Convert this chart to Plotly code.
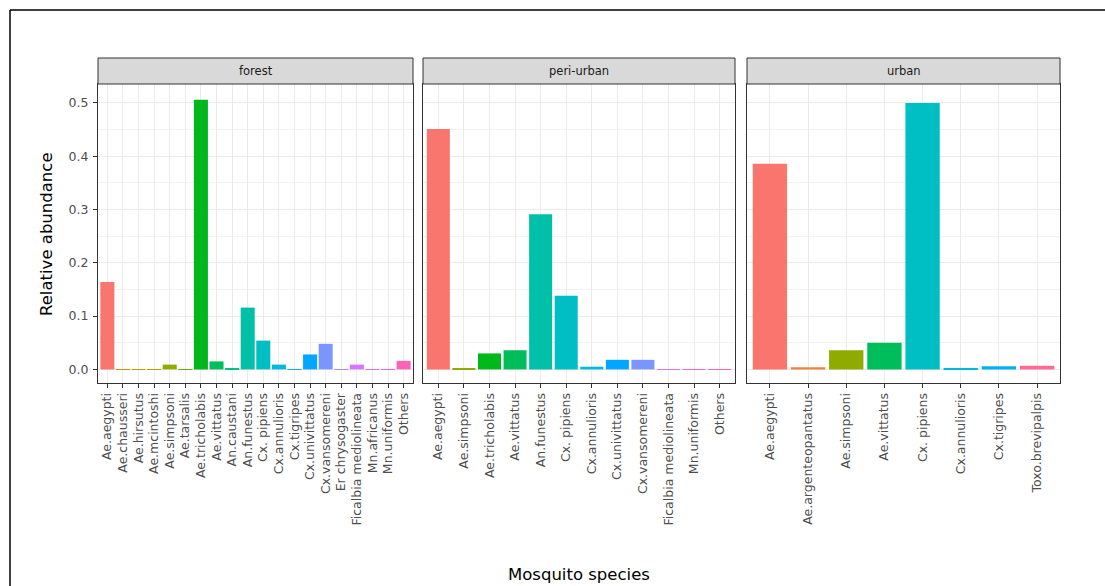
import math
import plotly.graph_objects as go

# ---------------- data ----------------
all_species = [
    "Ae.aegypti", "Ae.argenteopantatus", "Ae.chausseri", "Ae.hirsutus", "Ae.mcintoshi",
    "Ae.simpsoni", "Ae.tarsalis", "Ae.tricholabis", "Ae.vittatus", "An.caustani",
    "An.funestus", "Cx. pipiens", "Cx.annulioris", "Cx.tigripes", "Cx.univittatus",
    "Cx.vansomereni", "Er chrysogaster", "Ficalbia mediolineata", "Mn.africanus",
    "Mn.uniformis", "Others", "Toxo.brevipalpis",
]

forest_species = [
    "Ae.aegypti", "Ae.chausseri", "Ae.hirsutus", "Ae.mcintoshi", "Ae.simpsoni",
    "Ae.tarsalis", "Ae.tricholabis", "Ae.vittatus", "An.caustani", "An.funestus",
    "Cx. pipiens", "Cx.annulioris", "Cx.tigripes", "Cx.univittatus", "Cx.vansomereni",
    "Er chrysogaster", "Ficalbia mediolineata", "Mn.africanus", "Mn.uniformis", "Others",
]
forest_values = [
    0.164, 0.0005, 0.0005, 0.0005, 0.009,
    0.0005, 0.506, 0.015, 0.001, 0.116,
    0.054, 0.009, 0.0005, 0.028, 0.048,
    0.0005, 0.009, 0.0005, 0.0005, 0.016,
]

periurban_species = [
    "Ae.aegypti", "Ae.simpsoni", "Ae.tricholabis", "Ae.vittatus", "An.funestus",
    "Cx. pipiens", "Cx.annulioris", "Cx.univittatus", "Cx.vansomereni",
    "Ficalbia mediolineata", "Mn.uniformis", "Others",
]
periurban_values = [
    0.451, 0.001, 0.030, 0.036, 0.291,
    0.138, 0.005, 0.018, 0.018,
    0.0005, 0.0005, 0.0005,
]

urban_species = [
    "Ae.aegypti", "Ae.argenteopantatus", "Ae.simpsoni", "Ae.vittatus", "Cx. pipiens",
    "Cx.annulioris", "Cx.tigripes", "Toxo.brevipalpis",
]
urban_values = [0.386, 0.004, 0.036, 0.050, 0.500, 0.001, 0.006, 0.007]

panel_names = ["forest", "peri-urban", "urban"]
y_ticks = [0.0, 0.1, 0.2, 0.3, 0.4, 0.5]
y_tick_labels = ["0.0", "0.1", "0.2", "0.3", "0.4", "0.5"]


# ---------------- ggplot hue palette ----------------
def hcl_hex(h, c=100.0, l=65.0):
    WX, WY, WZ = 95.047, 100.0, 108.883
    hr = math.radians(h)
    U, V = c * math.cos(hr), c * math.sin(hr)
    Y = WY * (((l + 16) / 116) ** 3 if l > 7.999592 else l / 903.3)
    t = WX + WY + WZ
    x, y = WX / t, WY / t
    uN = 2 * x / (6 * y - x + 1.5)
    vN = 4.5 * y / (6 * y - x + 1.5)
    u = U / (13 * l) + uN
    v = V / (13 * l) + vN
    X = 9.0 * Y * u / (4 * v)
    Z = -X / 3 - 5 * Y + 3 * Y / v

    def g(val):
        val = val / WY
        val = 1.055 * val ** (1 / 2.4) - 0.055 if val > 0.00304 else 12.92 * val
        return min(1.0, max(0.0, val))

    r = g(3.240479 * X - 1.537150 * Y - 0.498535 * Z)
    gg = g(-0.969256 * X + 1.875992 * Y + 0.041556 * Z)
    b = g(0.055648 * X - 0.204043 * Y + 1.057311 * Z)
    return "#%02X%02X%02X" % (round(r * 255), round(gg * 255), round(b * 255))


n = len(all_species)
color_map = {sp: hcl_hex((15 + i * 360.0 / n) % 360) for i, sp in enumerate(all_species)}

# ---------------- figure ----------------
W, H = 1105, 586
L_PX, R_PX, T_PX, B_PX = 98, 1060, 84, 383
pw, ph = R_PX - L_PX, B_PX - T_PX
panel_px = [(98, 413), (423, 735), (747, 1060)]


def px_x(p):
    return (p - L_PX) / pw


def px_y(p):
    return (B_PX - p) / ph


fig = go.Figure()
panels = [
    (forest_species, forest_values),
    (periurban_species, periurban_values),
    (urban_species, urban_values),
]

font_family = "DejaVu Sans, sans-serif"

for i, (sp, vals) in enumerate(panels):
    xa = "x" if i == 0 else "x%d" % (i + 1)
    ya = "y" if i == 0 else "y%d" % (i + 1)
    fig.add_trace(go.Bar(
        x=sp, y=vals, xaxis=xa, yaxis=ya,
        marker=dict(color=[color_map[s] for s in sp], line=dict(width=0)),
        showlegend=False,
    ))
    a, b = panel_px[i]
    xkey = "xaxis" if i == 0 else "xaxis%d" % (i + 1)
    ykey = "yaxis" if i == 0 else "yaxis%d" % (i + 1)
    fig.layout[xkey] = dict(
        domain=[px_x(a), px_x(b)], anchor=ya,
        type="category", categoryorder="array", categoryarray=sp,
        range=[-0.6, len(sp) - 0.4],
        tickangle=-90, ticks="outside", ticklen=4, tickcolor="#333333",
        tickfont=dict(size=12.5, color="#4D4D4D", family=font_family),
        showgrid=True, gridcolor="#EBEBEB", gridwidth=1,
        showline=True, mirror=True, linecolor="#333333", linewidth=1,
        zeroline=False, fixedrange=True,
    )
    fig.layout[ykey] = dict(
        domain=[0, 1], anchor=xa,
        range=[-0.0255, 0.5355],
        tickvals=y_ticks, ticktext=y_tick_labels,
        showticklabels=(i == 0),
        ticks="outside" if i == 0 else "", ticklen=4, tickcolor="#333333",
        ticklabelstandoff=2,
        tickfont=dict(size=12.5, color="#4D4D4D", family=font_family),
        showgrid=True, gridcolor="#EBEBEB", gridwidth=1,
        minor=dict(dtick=0.1, tick0=0.05, showgrid=True, gridcolor="#F2F2F2", gridwidth=0.6),
        showline=True, mirror=True, linecolor="#333333", linewidth=1,
        zeroline=False, fixedrange=True,
    )

shapes = []
annotations = []
for i, name in enumerate(panel_names):
    a, b = panel_px[i]
    shapes.append(dict(
        type="rect", xref="paper", yref="paper",
        x0=px_x(a), x1=px_x(b), y0=px_y(84), y1=px_y(58),
        fillcolor="#D9D9D9", line=dict(color="#333333", width=1), layer="above",
    ))
    annotations.append(dict(
        text=name, xref="paper", yref="paper",
        x=(px_x(a) + px_x(b)) / 2, y=(px_y(84) + px_y(58)) / 2,
        showarrow=False, xanchor="center", yanchor="middle",
        font=dict(size=11.5, color="#1A1A1A", family=font_family),
    ))

# outer frame (top and left edges visible)
shapes.append(dict(type="line", xref="paper", yref="paper",
                   x0=px_x(10), x1=px_x(1120), y0=px_y(10), y1=px_y(10),
                   line=dict(color="black", width=1.5)))
shapes.append(dict(type="line", xref="paper", yref="paper",
                   x0=px_x(10), x1=px_x(10), y0=px_y(10), y1=px_y(600),
                   line=dict(color="black", width=1.5)))

annotations.append(dict(
    text="Relative abundance", xref="paper", yref="paper",
    x=px_x(46), y=px_y(234), textangle=-90, showarrow=False,
    xanchor="center", yanchor="middle",
    font=dict(size=16.5, color="black", family=font_family),
))
annotations.append(dict(
    text="Mosquito species", xref="paper", yref="paper",
    x=px_x(579), y=px_y(574), showarrow=False,
    xanchor="center", yanchor="middle",
    font=dict(size=16.5, color="black", family=font_family),
))

fig.update_layout(
    width=W, height=H,
    margin=dict(l=L_PX, r=W - R_PX, t=T_PX, b=H - B_PX, pad=0),
    paper_bgcolor="white", plot_bgcolor="white",
    bargap=0.1, shapes=shapes, annotations=annotations,
    font=dict(family=font_family),
)

fig.write_html("out.html")
